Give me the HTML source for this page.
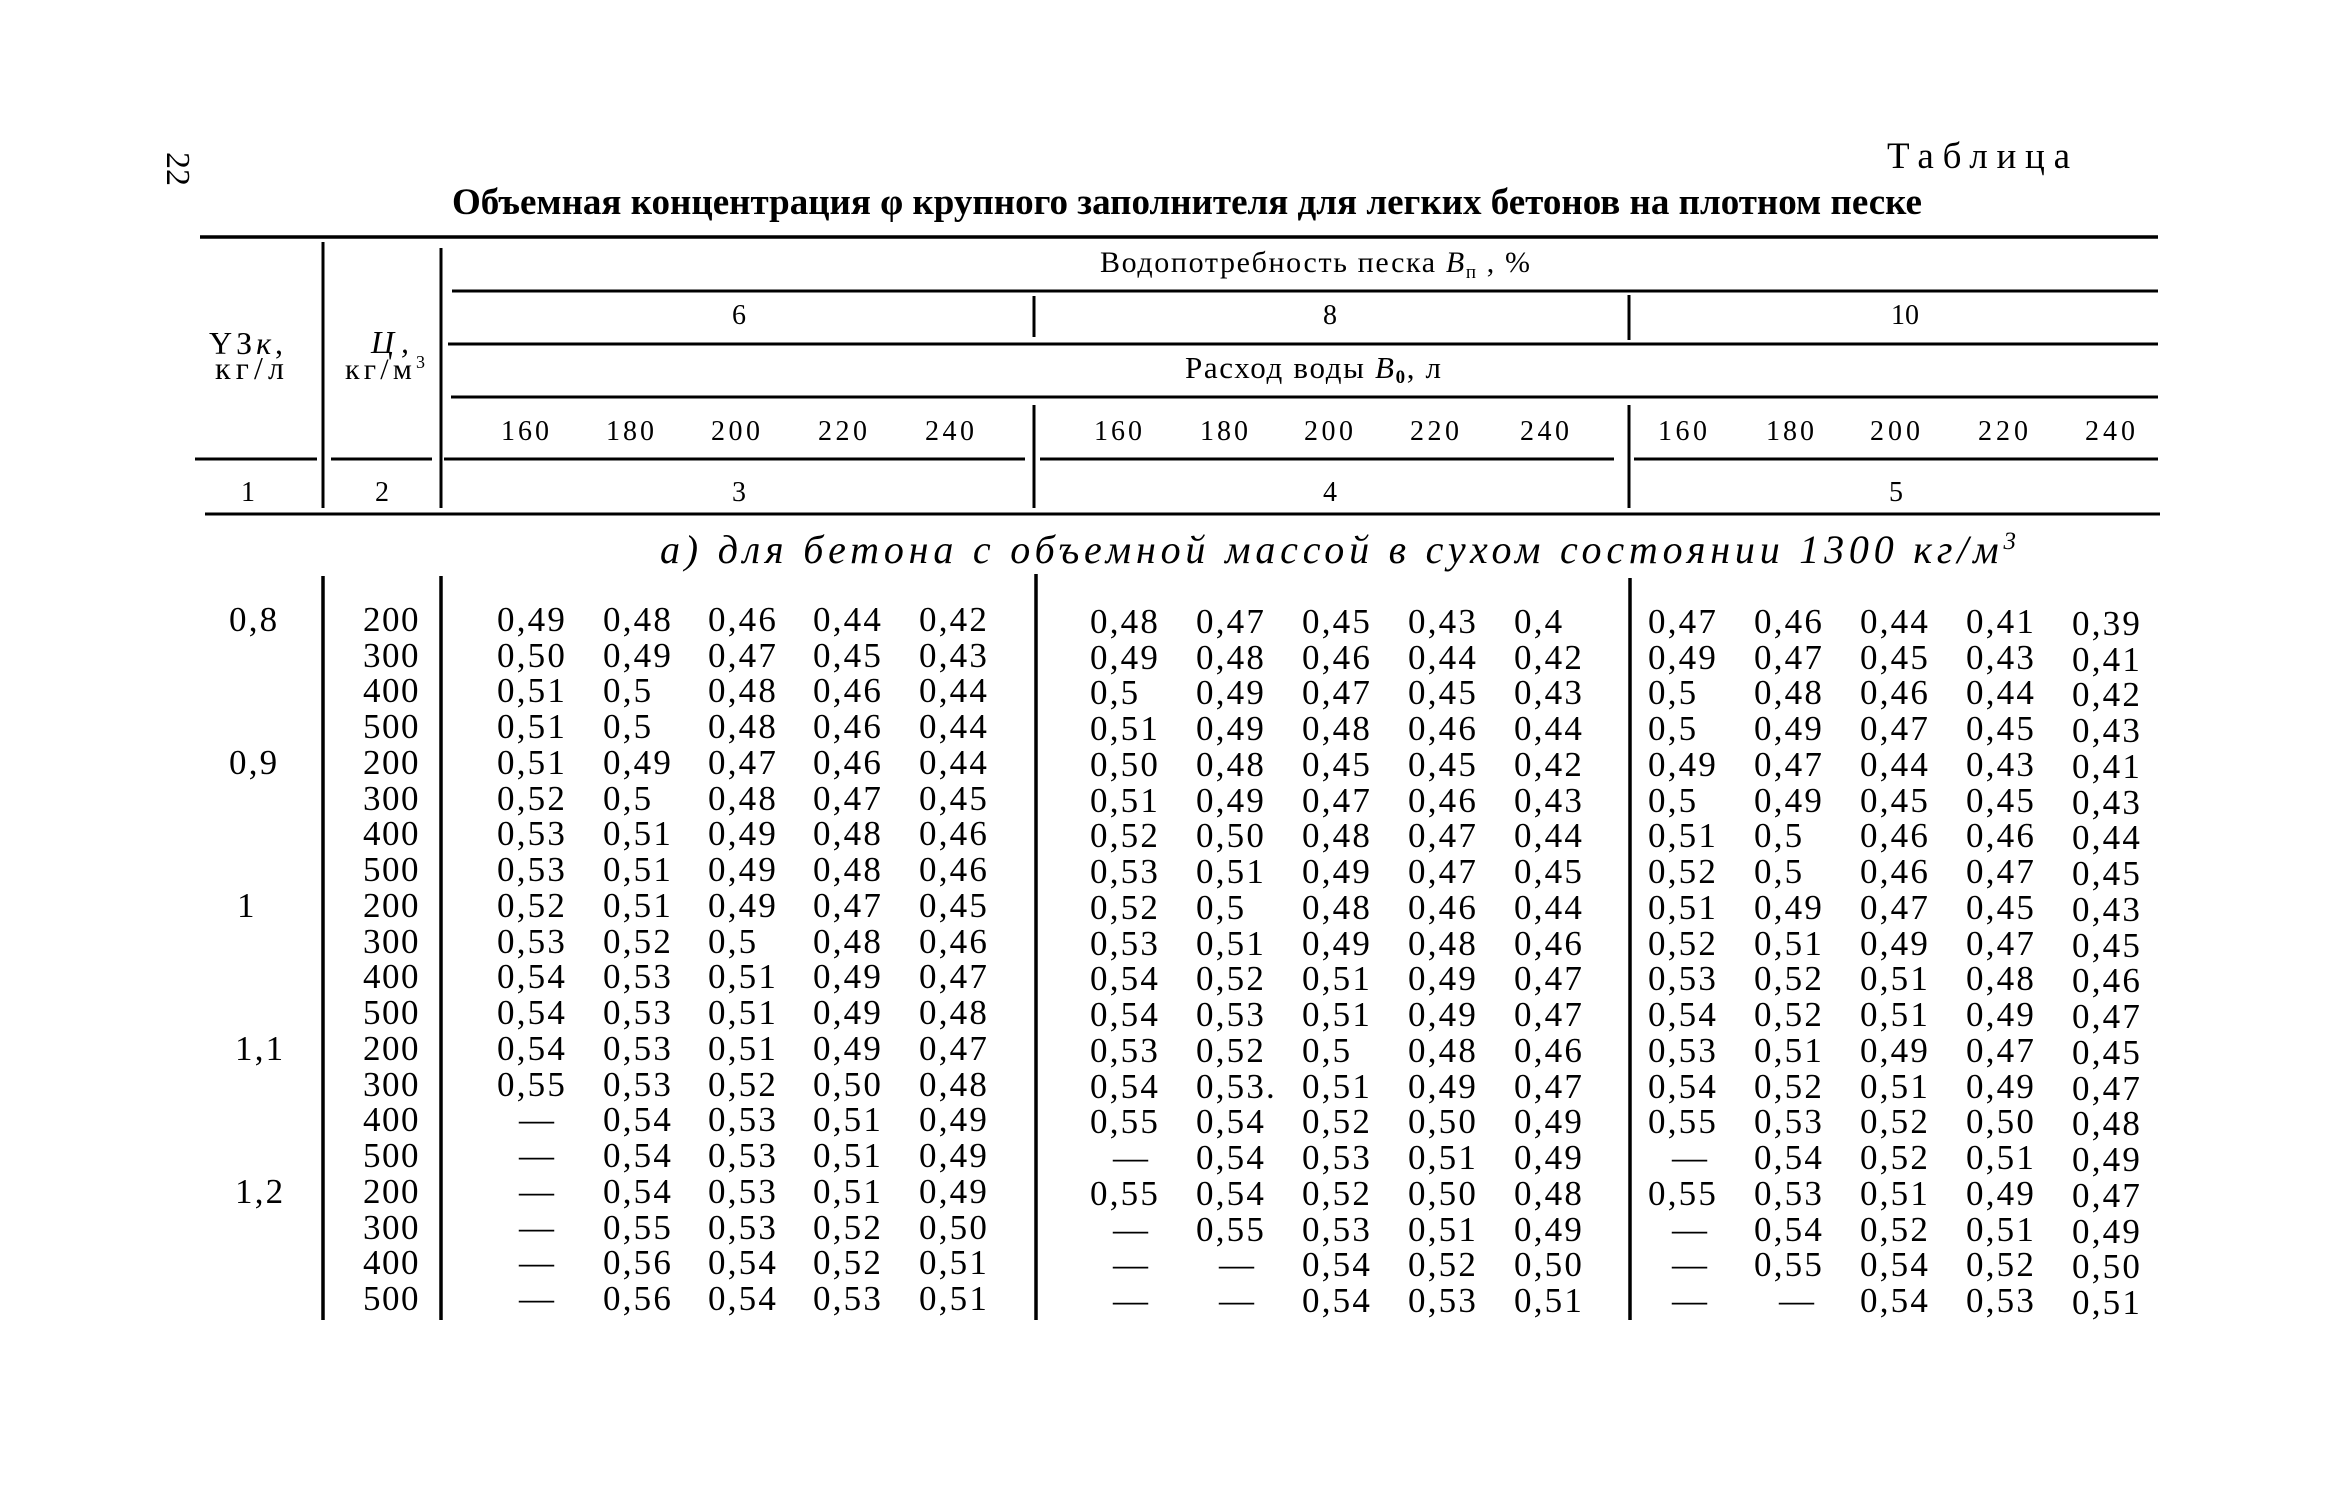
<!DOCTYPE html>
<html><head><meta charset="utf-8">
<style>
html,body{margin:0;padding:0;background:#fff}
svg{display:block}
text{font-family:"Liberation Serif","DejaVu Serif",serif;fill:#000}
.d{font-family:"Liberation Serif",serif;font-size:35px;letter-spacing:2.2px}
.c2{font-family:"Liberation Serif",serif;font-size:35px;letter-spacing:1.5px}
.h{font-size:28px}
</style></head><body>
<svg width="2338" height="1500" viewBox="0 0 2338 1500" xmlns="http://www.w3.org/2000/svg">
<rect width="2338" height="1500" fill="#fff"/>

<!-- lines -->
<g stroke="#000" fill="none">
<path d="M200 237H2158" stroke-width="3.5"/>
<path d="M452 291H2158M448 344H2158M451 397H2158" stroke-width="3"/>
<path d="M195 459H317M331 459H432M444 459H1025M1040 459H1614M1634 459H2158" stroke-width="3"/>
<path d="M205 514H2160" stroke-width="3"/>
<path d="M323 242V508M441 248V508M1034 296V337M1629 295V340M1034 405V508M1629 405V508" stroke-width="3"/>
<path d="M323 576V1320M441 576V1320M1036 574V1320M1630 578V1320" stroke-width="3.5"/>
</g>

<!-- page number -->
<text transform="translate(167,152) rotate(90)" font-size="34">22</text>

<!-- titles -->
<text x="1887" y="168" font-size="37" textLength="183" lengthAdjust="spacing">Таблица</text>
<text x="452" y="214" font-size="37" font-weight="bold" textLength="1470" lengthAdjust="spacingAndGlyphs">Объемная концентрация φ крупного заполнителя для легких бетонов на плотном песке</text>

<!-- header -->
<text x="1100" y="272" font-size="30" textLength="430" lengthAdjust="spacing">Водопотребность песка <tspan font-style="italic">B</tspan><tspan font-size="19" dy="6">п</tspan><tspan dy="-6"> , %</tspan></text>
<text x="739" y="324" font-size="28" text-anchor="middle">6</text>
<text x="1330" y="324" font-size="28" text-anchor="middle">8</text>
<text x="1905" y="324" font-size="28" text-anchor="middle">10</text>
<text x="1185" y="378" font-size="31" textLength="256" lengthAdjust="spacing">Расход воды <tspan font-style="italic">B</tspan><tspan font-size="19" dy="5" font-weight="bold">0</tspan><tspan dy="-5">, л</tspan></text>

<g class="h" lengthAdjust="spacing">
<text x="501" y="440" textLength="48">160</text>
<text x="606" y="440" textLength="48">180</text>
<text x="711" y="440" textLength="49">200</text>
<text x="818" y="440" textLength="49">220</text>
<text x="925" y="440" textLength="49">240</text>
<text x="1094" y="440" textLength="48">160</text>
<text x="1200" y="440" textLength="48">180</text>
<text x="1304" y="440" textLength="49">200</text>
<text x="1410" y="440" textLength="49">220</text>
<text x="1520" y="440" textLength="49">240</text>
<text x="1658" y="440" textLength="49">160</text>
<text x="1766" y="440" textLength="48">180</text>
<text x="1870" y="440" textLength="50">200</text>
<text x="1978" y="440" textLength="50">220</text>
<text x="2085" y="440" textLength="50">240</text>
</g>

<text x="209" y="354" font-size="32" textLength="74" lengthAdjust="spacing">ΥЗ<tspan font-style="italic">к</tspan>,</text>
<text x="215" y="379" font-size="32" textLength="69" lengthAdjust="spacing">кг/л</text>
<text x="371" y="353" font-size="32" font-style="italic" textLength="38" lengthAdjust="spacing">Ц,</text>
<text x="345" y="379" font-size="30" textLength="80" lengthAdjust="spacing">кг/м<tspan font-size="18" dy="-11">3</tspan></text>

<g font-size="28" text-anchor="middle">
<text x="248" y="501">1</text>
<text x="382" y="501">2</text>
<text x="739" y="501">3</text>
<text x="1330" y="501">4</text>
<text x="1896" y="501">5</text>
</g>

<text x="660" y="563" font-size="40" font-style="italic" textLength="1356" lengthAdjust="spacing">а) для бетона с объемной массой в сухом состоянии 1300 кг/м<tspan font-size="25" dy="-14">3</tspan></text>

<!-- column 1 -->
<g class="d">
<text x="229" y="631">0,8</text>
<text x="229" y="774">0,9</text>
<text x="237" y="917">1</text>
<text x="235" y="1060">1,1</text>
<text x="235" y="1203">1,2</text>
</g>

<!-- column 2 -->
<g class="c2">
<text x="363" y="631">200</text>
<text x="363" y="667">300</text>
<text x="363" y="702">400</text>
<text x="363" y="738">500</text>
<text x="363" y="774">200</text>
<text x="363" y="810">300</text>
<text x="363" y="845">400</text>
<text x="363" y="881">500</text>
<text x="363" y="917">200</text>
<text x="363" y="953">300</text>
<text x="363" y="988">400</text>
<text x="363" y="1024">500</text>
<text x="363" y="1060">200</text>
<text x="363" y="1096">300</text>
<text x="363" y="1131">400</text>
<text x="363" y="1167">500</text>
<text x="363" y="1203">200</text>
<text x="363" y="1239">300</text>
<text x="363" y="1274">400</text>
<text x="363" y="1310">500</text>
</g>

<!-- group 1 -->
<g class="d">
<text y="631"><tspan x="497">0,49</tspan><tspan x="603">0,48</tspan><tspan x="708">0,46</tspan><tspan x="813">0,44</tspan><tspan x="919">0,42</tspan></text>
<text y="667"><tspan x="497">0,50</tspan><tspan x="603">0,49</tspan><tspan x="708">0,47</tspan><tspan x="813">0,45</tspan><tspan x="919">0,43</tspan></text>
<text y="702"><tspan x="497">0,51</tspan><tspan x="603">0,5</tspan><tspan x="708">0,48</tspan><tspan x="813">0,46</tspan><tspan x="919">0,44</tspan></text>
<text y="738"><tspan x="497">0,51</tspan><tspan x="603">0,5</tspan><tspan x="708">0,48</tspan><tspan x="813">0,46</tspan><tspan x="919">0,44</tspan></text>
<text y="774"><tspan x="497">0,51</tspan><tspan x="603">0,49</tspan><tspan x="708">0,47</tspan><tspan x="813">0,46</tspan><tspan x="919">0,44</tspan></text>
<text y="810"><tspan x="497">0,52</tspan><tspan x="603">0,5</tspan><tspan x="708">0,48</tspan><tspan x="813">0,47</tspan><tspan x="919">0,45</tspan></text>
<text y="845"><tspan x="497">0,53</tspan><tspan x="603">0,51</tspan><tspan x="708">0,49</tspan><tspan x="813">0,48</tspan><tspan x="919">0,46</tspan></text>
<text y="881"><tspan x="497">0,53</tspan><tspan x="603">0,51</tspan><tspan x="708">0,49</tspan><tspan x="813">0,48</tspan><tspan x="919">0,46</tspan></text>
<text y="917"><tspan x="497">0,52</tspan><tspan x="603">0,51</tspan><tspan x="708">0,49</tspan><tspan x="813">0,47</tspan><tspan x="919">0,45</tspan></text>
<text y="953"><tspan x="497">0,53</tspan><tspan x="603">0,52</tspan><tspan x="708">0,5</tspan><tspan x="813">0,48</tspan><tspan x="919">0,46</tspan></text>
<text y="988"><tspan x="497">0,54</tspan><tspan x="603">0,53</tspan><tspan x="708">0,51</tspan><tspan x="813">0,49</tspan><tspan x="919">0,47</tspan></text>
<text y="1024"><tspan x="497">0,54</tspan><tspan x="603">0,53</tspan><tspan x="708">0,51</tspan><tspan x="813">0,49</tspan><tspan x="919">0,48</tspan></text>
<text y="1060"><tspan x="497">0,54</tspan><tspan x="603">0,53</tspan><tspan x="708">0,51</tspan><tspan x="813">0,49</tspan><tspan x="919">0,47</tspan></text>
<text y="1096"><tspan x="497">0,55</tspan><tspan x="603">0,53</tspan><tspan x="708">0,52</tspan><tspan x="813">0,50</tspan><tspan x="919">0,48</tspan></text>
<text y="1131"><tspan x="519">—</tspan><tspan x="603">0,54</tspan><tspan x="708">0,53</tspan><tspan x="813">0,51</tspan><tspan x="919">0,49</tspan></text>
<text y="1167"><tspan x="519">—</tspan><tspan x="603">0,54</tspan><tspan x="708">0,53</tspan><tspan x="813">0,51</tspan><tspan x="919">0,49</tspan></text>
<text y="1203"><tspan x="519">—</tspan><tspan x="603">0,54</tspan><tspan x="708">0,53</tspan><tspan x="813">0,51</tspan><tspan x="919">0,49</tspan></text>
<text y="1239"><tspan x="519">—</tspan><tspan x="603">0,55</tspan><tspan x="708">0,53</tspan><tspan x="813">0,52</tspan><tspan x="919">0,50</tspan></text>
<text y="1274"><tspan x="519">—</tspan><tspan x="603">0,56</tspan><tspan x="708">0,54</tspan><tspan x="813">0,52</tspan><tspan x="919">0,51</tspan></text>
<text y="1310"><tspan x="519">—</tspan><tspan x="603">0,56</tspan><tspan x="708">0,54</tspan><tspan x="813">0,53</tspan><tspan x="919">0,51</tspan></text>
</g>

<!-- group 2 -->
<g class="d" transform="translate(0,2)">
<text y="631"><tspan x="1090">0,48</tspan><tspan x="1196">0,47</tspan><tspan x="1302">0,45</tspan><tspan x="1408">0,43</tspan><tspan x="1514">0,4</tspan></text>
<text y="667"><tspan x="1090">0,49</tspan><tspan x="1196">0,48</tspan><tspan x="1302">0,46</tspan><tspan x="1408">0,44</tspan><tspan x="1514">0,42</tspan></text>
<text y="702"><tspan x="1090">0,5</tspan><tspan x="1196">0,49</tspan><tspan x="1302">0,47</tspan><tspan x="1408">0,45</tspan><tspan x="1514">0,43</tspan></text>
<text y="738"><tspan x="1090">0,51</tspan><tspan x="1196">0,49</tspan><tspan x="1302">0,48</tspan><tspan x="1408">0,46</tspan><tspan x="1514">0,44</tspan></text>
<text y="774"><tspan x="1090">0,50</tspan><tspan x="1196">0,48</tspan><tspan x="1302">0,45</tspan><tspan x="1408">0,45</tspan><tspan x="1514">0,42</tspan></text>
<text y="810"><tspan x="1090">0,51</tspan><tspan x="1196">0,49</tspan><tspan x="1302">0,47</tspan><tspan x="1408">0,46</tspan><tspan x="1514">0,43</tspan></text>
<text y="845"><tspan x="1090">0,52</tspan><tspan x="1196">0,50</tspan><tspan x="1302">0,48</tspan><tspan x="1408">0,47</tspan><tspan x="1514">0,44</tspan></text>
<text y="881"><tspan x="1090">0,53</tspan><tspan x="1196">0,51</tspan><tspan x="1302">0,49</tspan><tspan x="1408">0,47</tspan><tspan x="1514">0,45</tspan></text>
<text y="917"><tspan x="1090">0,52</tspan><tspan x="1196">0,5</tspan><tspan x="1302">0,48</tspan><tspan x="1408">0,46</tspan><tspan x="1514">0,44</tspan></text>
<text y="953"><tspan x="1090">0,53</tspan><tspan x="1196">0,51</tspan><tspan x="1302">0,49</tspan><tspan x="1408">0,48</tspan><tspan x="1514">0,46</tspan></text>
<text y="988"><tspan x="1090">0,54</tspan><tspan x="1196">0,52</tspan><tspan x="1302">0,51</tspan><tspan x="1408">0,49</tspan><tspan x="1514">0,47</tspan></text>
<text y="1024"><tspan x="1090">0,54</tspan><tspan x="1196">0,53</tspan><tspan x="1302">0,51</tspan><tspan x="1408">0,49</tspan><tspan x="1514">0,47</tspan></text>
<text y="1060"><tspan x="1090">0,53</tspan><tspan x="1196">0,52</tspan><tspan x="1302">0,5</tspan><tspan x="1408">0,48</tspan><tspan x="1514">0,46</tspan></text>
<text y="1096"><tspan x="1090">0,54</tspan><tspan x="1196">0,53.</tspan><tspan x="1302">0,51</tspan><tspan x="1408">0,49</tspan><tspan x="1514">0,47</tspan></text>
<text y="1131"><tspan x="1090">0,55</tspan><tspan x="1196">0,54</tspan><tspan x="1302">0,52</tspan><tspan x="1408">0,50</tspan><tspan x="1514">0,49</tspan></text>
<text y="1167"><tspan x="1113">—</tspan><tspan x="1196">0,54</tspan><tspan x="1302">0,53</tspan><tspan x="1408">0,51</tspan><tspan x="1514">0,49</tspan></text>
<text y="1203"><tspan x="1090">0,55</tspan><tspan x="1196">0,54</tspan><tspan x="1302">0,52</tspan><tspan x="1408">0,50</tspan><tspan x="1514">0,48</tspan></text>
<text y="1239"><tspan x="1113">—</tspan><tspan x="1196">0,55</tspan><tspan x="1302">0,53</tspan><tspan x="1408">0,51</tspan><tspan x="1514">0,49</tspan></text>
<text y="1274"><tspan x="1113">—</tspan><tspan x="1219">—</tspan><tspan x="1302">0,54</tspan><tspan x="1408">0,52</tspan><tspan x="1514">0,50</tspan></text>
<text y="1310"><tspan x="1113">—</tspan><tspan x="1219">—</tspan><tspan x="1302">0,54</tspan><tspan x="1408">0,53</tspan><tspan x="1514">0,51</tspan></text>
</g>

<!-- group 3 -->
<g class="d" transform="translate(0,2)">
<text y="631"><tspan x="1648">0,47</tspan><tspan x="1754">0,46</tspan><tspan x="1860">0,44</tspan><tspan x="1966">0,41</tspan><tspan x="2072" dy="2">0,39</tspan></text>
<text y="667"><tspan x="1648">0,49</tspan><tspan x="1754">0,47</tspan><tspan x="1860">0,45</tspan><tspan x="1966">0,43</tspan><tspan x="2072" dy="2">0,41</tspan></text>
<text y="702"><tspan x="1648">0,5</tspan><tspan x="1754">0,48</tspan><tspan x="1860">0,46</tspan><tspan x="1966">0,44</tspan><tspan x="2072" dy="2">0,42</tspan></text>
<text y="738"><tspan x="1648">0,5</tspan><tspan x="1754">0,49</tspan><tspan x="1860">0,47</tspan><tspan x="1966">0,45</tspan><tspan x="2072" dy="2">0,43</tspan></text>
<text y="774"><tspan x="1648">0,49</tspan><tspan x="1754">0,47</tspan><tspan x="1860">0,44</tspan><tspan x="1966">0,43</tspan><tspan x="2072" dy="2">0,41</tspan></text>
<text y="810"><tspan x="1648">0,5</tspan><tspan x="1754">0,49</tspan><tspan x="1860">0,45</tspan><tspan x="1966">0,45</tspan><tspan x="2072" dy="2">0,43</tspan></text>
<text y="845"><tspan x="1648">0,51</tspan><tspan x="1754">0,5</tspan><tspan x="1860">0,46</tspan><tspan x="1966">0,46</tspan><tspan x="2072" dy="2">0,44</tspan></text>
<text y="881"><tspan x="1648">0,52</tspan><tspan x="1754">0,5</tspan><tspan x="1860">0,46</tspan><tspan x="1966">0,47</tspan><tspan x="2072" dy="2">0,45</tspan></text>
<text y="917"><tspan x="1648">0,51</tspan><tspan x="1754">0,49</tspan><tspan x="1860">0,47</tspan><tspan x="1966">0,45</tspan><tspan x="2072" dy="2">0,43</tspan></text>
<text y="953"><tspan x="1648">0,52</tspan><tspan x="1754">0,51</tspan><tspan x="1860">0,49</tspan><tspan x="1966">0,47</tspan><tspan x="2072" dy="2">0,45</tspan></text>
<text y="988"><tspan x="1648">0,53</tspan><tspan x="1754">0,52</tspan><tspan x="1860">0,51</tspan><tspan x="1966">0,48</tspan><tspan x="2072" dy="2">0,46</tspan></text>
<text y="1024"><tspan x="1648">0,54</tspan><tspan x="1754">0,52</tspan><tspan x="1860">0,51</tspan><tspan x="1966">0,49</tspan><tspan x="2072" dy="2">0,47</tspan></text>
<text y="1060"><tspan x="1648">0,53</tspan><tspan x="1754">0,51</tspan><tspan x="1860">0,49</tspan><tspan x="1966">0,47</tspan><tspan x="2072" dy="2">0,45</tspan></text>
<text y="1096"><tspan x="1648">0,54</tspan><tspan x="1754">0,52</tspan><tspan x="1860">0,51</tspan><tspan x="1966">0,49</tspan><tspan x="2072" dy="2">0,47</tspan></text>
<text y="1131"><tspan x="1648">0,55</tspan><tspan x="1754">0,53</tspan><tspan x="1860">0,52</tspan><tspan x="1966">0,50</tspan><tspan x="2072" dy="2">0,48</tspan></text>
<text y="1167"><tspan x="1672">—</tspan><tspan x="1754">0,54</tspan><tspan x="1860">0,52</tspan><tspan x="1966">0,51</tspan><tspan x="2072" dy="2">0,49</tspan></text>
<text y="1203"><tspan x="1648">0,55</tspan><tspan x="1754">0,53</tspan><tspan x="1860">0,51</tspan><tspan x="1966">0,49</tspan><tspan x="2072" dy="2">0,47</tspan></text>
<text y="1239"><tspan x="1672">—</tspan><tspan x="1754">0,54</tspan><tspan x="1860">0,52</tspan><tspan x="1966">0,51</tspan><tspan x="2072" dy="2">0,49</tspan></text>
<text y="1274"><tspan x="1672">—</tspan><tspan x="1754">0,55</tspan><tspan x="1860">0,54</tspan><tspan x="1966">0,52</tspan><tspan x="2072" dy="2">0,50</tspan></text>
<text y="1310"><tspan x="1672">—</tspan><tspan x="1779">—</tspan><tspan x="1860">0,54</tspan><tspan x="1966">0,53</tspan><tspan x="2072" dy="2">0,51</tspan></text>
</g>
</svg>
</body></html>
